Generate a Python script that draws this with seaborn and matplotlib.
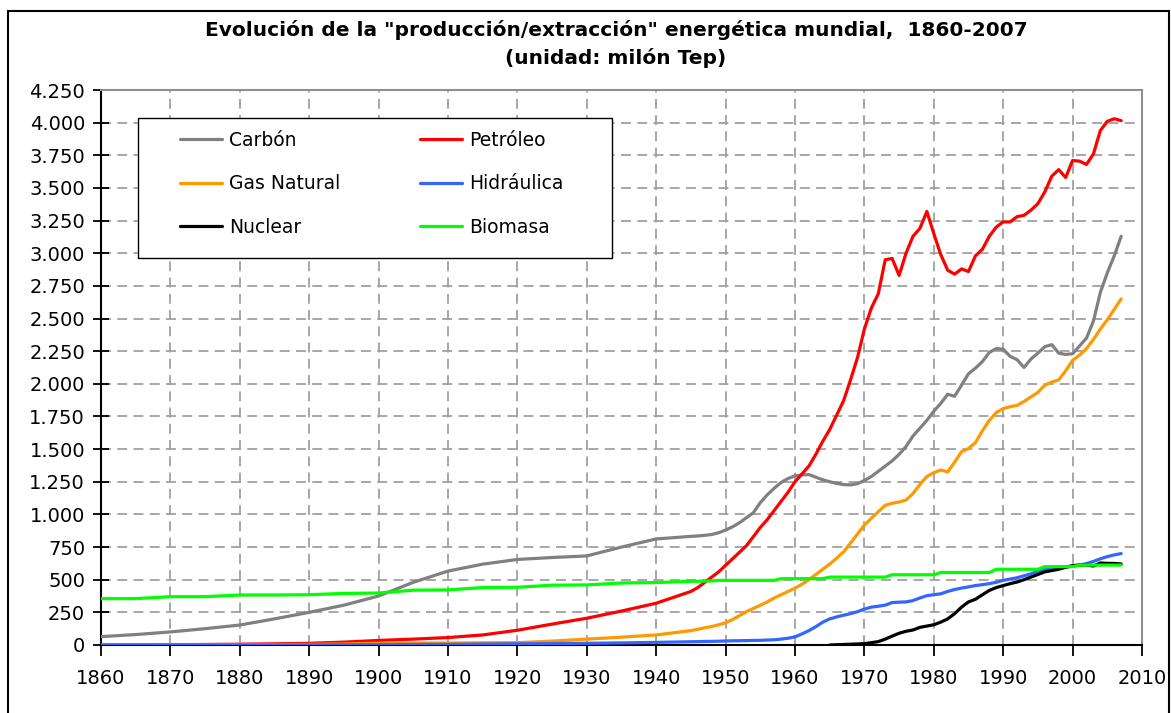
import matplotlib
matplotlib.use("Agg")
import matplotlib.pyplot as plt
import seaborn as sns
import pandas as pd
from matplotlib.patches import Rectangle
from matplotlib.ticker import FuncFormatter

# ---------------- data (million toe) ----------------
years = [1860, 1865, 1870, 1875, 1880, 1885, 1890, 1895, 1900, 1905,
         1910, 1915, 1920, 1925, 1930, 1935, 1940, 1945] + list(range(1946, 2008))

carbon = [64, 80, 100, 125, 153, 200, 250, 305, 375, 480,
          566, 619, 655, 670, 682, 750, 812, 832,
          835, 840, 846, 860, 880, 905, 936, 975, 1013, 1090,
          1150, 1200, 1245, 1275, 1295, 1302, 1305, 1285, 1265, 1250,
          1238, 1228, 1226, 1235, 1260, 1290, 1330, 1370, 1410, 1460,
          1520, 1600, 1660, 1720, 1790, 1850, 1920, 1905, 1990, 2077,
          2120, 2170, 2240, 2270, 2265, 2210, 2185, 2125, 2190, 2235,
          2285, 2300, 2235, 2225, 2230, 2290, 2350, 2480, 2700, 2850,
          2980, 3130]

petroleo = [0, 1, 2, 4, 6, 9, 13, 22, 35, 45,
            57, 77, 113, 160, 205, 260, 320, 410,
            440, 480, 520, 560, 610, 660, 710, 760, 830, 900,
            960, 1030, 1100, 1170, 1250, 1310, 1370, 1460, 1560, 1650,
            1760, 1870, 2030, 2200, 2420, 2580, 2690, 2950, 2960, 2830,
            3000, 3130, 3190, 3320, 3150, 2990, 2870, 2840, 2880, 2860,
            2980, 3030, 3130, 3200, 3240, 3240, 3280, 3290, 3330, 3380,
            3470, 3590, 3640, 3580, 3710, 3705, 3680, 3760, 3940, 4010,
            4030, 4015]

gas = [0, 0, 0, 1, 2, 3, 5, 8, 13, 15,
       15, 17, 18, 30, 45, 60, 77, 110,
       120, 132, 141, 155, 170, 195, 225, 255, 280, 305,
       330, 360, 385, 410, 435, 465, 500, 540, 580, 620,
       665, 713, 780, 850, 918, 970, 1020, 1070, 1085, 1095,
       1110, 1160, 1230, 1290, 1320, 1340, 1325, 1400, 1480, 1505,
       1550, 1640, 1720, 1780, 1810, 1825, 1835, 1865, 1900, 1935,
       1990, 2013, 2030, 2100, 2180, 2220, 2270, 2340, 2420, 2490,
       2570, 2650]

hidraulica = [0, 0, 0, 0, 0, 0, 1, 2, 3, 4,
              5, 7, 9, 11, 13, 16, 20, 25,
              26, 27, 28, 29, 31, 32, 33, 34, 35, 36,
              38, 40, 45, 52, 62, 85, 110, 140, 175, 200,
              215, 228, 240, 255, 275, 290, 297, 305, 325, 328,
              330, 340, 360, 378, 385, 392, 410, 425, 436, 445,
              455, 462, 470, 480, 495, 505, 515, 530, 545, 565,
              577, 585, 592, 597, 605, 612, 623, 640, 660, 677,
              690, 700]

nuclear_years = list(range(1965, 2008))
nuclear = [0, 2, 4, 6, 8, 10, 18, 26, 45, 68,
           90, 105, 115, 135, 145, 155, 175, 200, 240, 290,
           330, 350, 385, 418, 440, 455, 470, 482, 500, 520,
           540, 560, 570, 580, 595, 608, 612, 612, 605, 628,
           625, 625, 620]

biomasa = [355, 355, 370, 370, 383, 383, 385, 395, 398, 420,
           422, 440, 442, 458, 460, 475, 478, 488,
           488, 490, 490, 495, 495, 495, 495, 495, 495, 495,
           495, 495, 508, 508, 508, 508, 508, 508, 508, 520,
           520, 520, 520, 520, 520, 520, 520, 520, 538, 538,
           538, 538, 538, 538, 538, 555, 555, 555, 555, 555,
           555, 555, 555, 580, 580, 580, 580, 580, 580, 580,
           600, 600, 600, 600, 600, 612, 612, 612, 612, 612,
           612, 612]

colors = {"Carbón": "#808080", "Petróleo": "#FF0000", "Gas Natural": "#FF9900",
          "Hidráulica": "#3366FF", "Nuclear": "#000000", "Biomasa": "#00FF00"}

frames = [
    pd.DataFrame({"year": years, "value": carbon, "fuente": "Carbón"}),
    pd.DataFrame({"year": years, "value": petroleo, "fuente": "Petróleo"}),
    pd.DataFrame({"year": years, "value": gas, "fuente": "Gas Natural"}),
    pd.DataFrame({"year": years, "value": hidraulica, "fuente": "Hidráulica"}),
    pd.DataFrame({"year": nuclear_years, "value": nuclear, "fuente": "Nuclear"}),
    pd.DataFrame({"year": years, "value": biomasa, "fuente": "Biomasa"}),
]

# ---------------- figure ----------------
sns.set_style("white")
plt.rcParams["font.family"] = ["DejaVu Sans"]
plt.rcParams["text.color"] = "black"
plt.rcParams["xtick.color"] = "black"
plt.rcParams["ytick.color"] = "black"

W, H = 1171, 713
fig = plt.figure(figsize=(W / 100, H / 100), dpi=100)
fig.patch.set_facecolor("white")

# outer chart border
fig.patches.append(Rectangle((8 / W, -0.02), (1169 - 8) / W, 1 - 11 / H + 0.02,
                             transform=fig.transFigure, fill=False,
                             edgecolor="black", linewidth=1.5))

ax_l, ax_r, ax_t, ax_b = 101, 1142, 90, 645
ax = fig.add_axes([ax_l / W, 1 - ax_b / H, (ax_r - ax_l) / W, (ax_b - ax_t) / H])

for df in frames:
    name = df["fuente"].iloc[0]
    sns.lineplot(data=df, x="year", y="value", ax=ax, color=colors[name],
                 linewidth=2.3, label=name, legend=False, zorder=3)

ax.set_xlim(1860, 2010)
ax.set_ylim(0, 4250)
ax.set_xticks(range(1860, 2011, 10))
ax.set_yticks(range(0, 4251, 250))
ax.yaxis.set_major_formatter(FuncFormatter(lambda v, p: f"{int(v):,}".replace(",", ".")))
ax.set_xlabel("")
ax.set_ylabel("")

ax.grid(True, color="#a0a0a0", linestyle=(0, (5.5, 3.5)), linewidth=1.3, zorder=0)
ax.set_axisbelow(True)

for side in ["left", "bottom"]:
    ax.spines[side].set_color("black")
    ax.spines[side].set_linewidth(1.5)
for side in ["top", "right"]:
    ax.spines[side].set_color("#909090")
    ax.spines[side].set_linewidth(1.5)
    ax.spines[side].set_visible(True)

ax.tick_params(axis="y", direction="inout", length=11, width=1.3, labelsize=14,
               pad=6, colors="black", labelcolor="black", left=True)
ax.tick_params(axis="x", direction="out", length=8, width=1.3, labelsize=14,
               pad=9, colors="black", labelcolor="black", bottom=True)

# title
fig.text(616 / W, 1 - 30 / H, 'Evolución de la "producción/extracción" energética mundial,  1860-2007',
         ha="center", va="center", fontsize=14.5, fontweight="bold", color="black")
fig.text(616 / W, 1 - 58 / H, "(unidad: milón Tep)",
         ha="center", va="center", fontsize=14.5, fontweight="bold", color="black")

# legend
def axx(px):
    return (px - ax_l) / (ax_r - ax_l)

def axy(py):
    return (ax_b - py) / (ax_b - ax_t)

ax.add_patch(Rectangle((axx(138), axy(258)), axx(612) - axx(138), axy(118) - axy(258),
                       transform=ax.transAxes, facecolor="white", edgecolor="black",
                       linewidth=1.0, zorder=4))

handles, labels = ax.get_legend_handles_labels()
hmap = dict(zip(labels, handles))
col1 = ["Carbón", "Gas Natural", "Nuclear"]
col2 = ["Petróleo", "Hidráulica", "Biomasa"]
leg_kw = dict(frameon=False, loc="upper left", borderpad=0, borderaxespad=0,
              handlelength=2.25, handletextpad=0.35, labelspacing=1.3, fontsize=13.5,
              labelcolor="black")
leg1 = ax.legend([hmap[n] for n in col1], col1, bbox_to_anchor=(axx(180), axy(131)), **leg_kw)
leg1.set_zorder(5)
ax.add_artist(leg1)
leg2 = ax.legend([hmap[n] for n in col2], col2, bbox_to_anchor=(axx(420), axy(131)), **leg_kw)
leg2.set_zorder(5)

fig.savefig("out.png", dpi=100)
